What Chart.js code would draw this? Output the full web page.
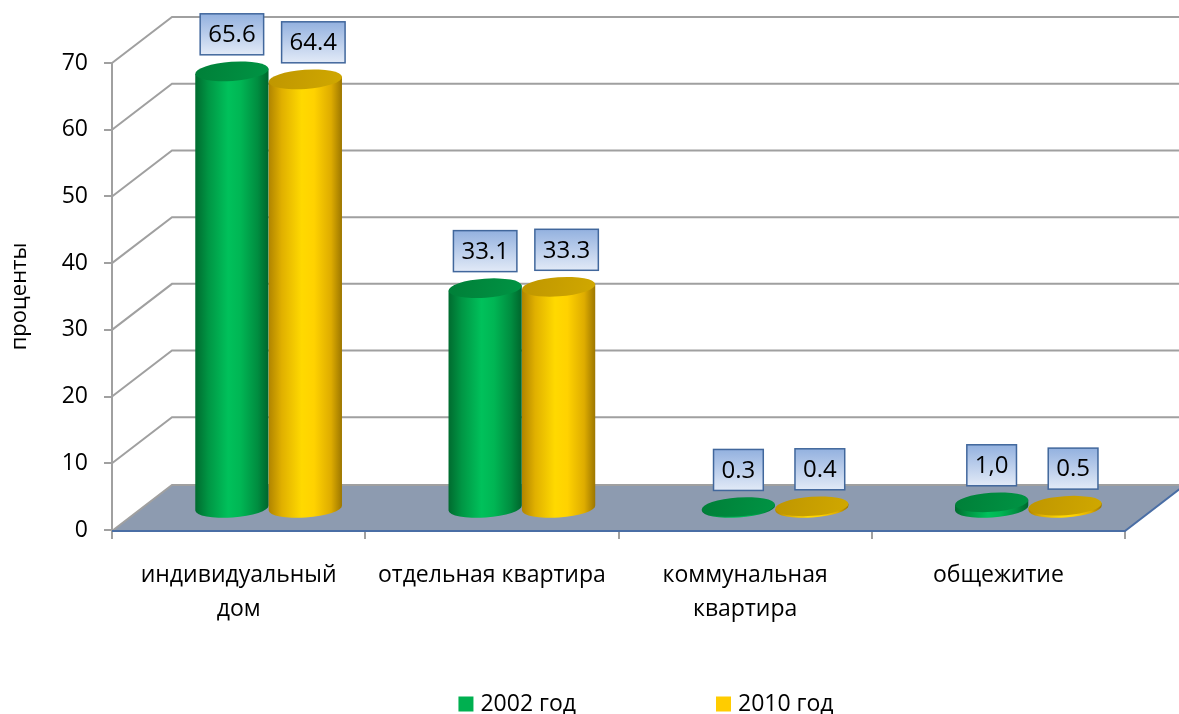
<!DOCTYPE html>
<html><head><meta charset="utf-8">
<script src="https://cdn.jsdelivr.net/npm/chart.js@4.4.0/dist/chart.umd.min.js"></script>
<style>html,body{margin:0;padding:0;background:#fff;overflow:hidden}</style>
</head><body>
<canvas id="c" width="1179" height="714"></canvas>
<script>
// ---- data ----
const categories = [['индивидуальный', 'дом'], 'отдельная квартира', ['коммунальная', 'квартира'], 'общежитие'];
const seriesNames = ['2002 год', '2010 год'];
const values2002 = [65.6, 33.1, 0.3, 1.0];
const values2010 = [64.4, 33.3, 0.4, 0.5];
const labels2002 = ['65.6', '33.1', '0.3', '1,0'];
const labels2010 = ['64.4', '33.3', '0.4', '0.5'];
const yTicks = [0, 10, 20, 30, 40, 50, 60, 70];
const axisTitle = 'проценты';

// ---- style ----
const FONT = "'Open Sans', sans-serif";
const DX = 60, DY = -46;
const palette = [
  { stops: [[0, '#006b2f'], [0.18, '#009644'], [0.45, '#00c15b'], [0.62, '#00b654'], [0.85, '#008d40'], [1, '#00652c']],
    top: ['#007f38', '#009444'], legend: '#00b050', labelShift: 0 },
  { stops: [[0, '#b08400'], [0.18, '#e0b000'], [0.45, '#ffd900'], [0.62, '#ffd200'], [0.85, '#deac00'], [1, '#9c7600']],
    top: ['#bf9600', '#d0a800'], legend: '#ffcc00', labelShift: 8 }
];
const dataLabels = [labels2002, labels2010];

function drawCylinder(ctx, cx, top, base, w, pal) {
  const rx = w / 2, ry = w * 0.13, rot = -0.07;
  const c = Math.cos(rot), s = Math.sin(rot);
  const g = ctx.createLinearGradient(cx - rx, 0, cx + rx, 0);
  pal.stops.forEach(st => g.addColorStop(st[0], st[1]));
  ctx.fillStyle = g;
  ctx.beginPath();
  ctx.moveTo(cx - rx * c, top - rx * s);
  ctx.ellipse(cx, base, rx, ry, rot, Math.PI, 0, true);
  ctx.lineTo(cx + rx * c, top + rx * s);
  ctx.closePath();
  ctx.fill();
  const tg = ctx.createLinearGradient(cx - rx, top - ry, cx + rx, top + ry);
  tg.addColorStop(0, pal.top[0]);
  tg.addColorStop(1, pal.top[1]);
  ctx.fillStyle = tg;
  ctx.beginPath();
  ctx.ellipse(cx, top, rx, ry, rot, 0, Math.PI * 2);
  ctx.fill();
  return ry;
}

const plugin3d = {
  id: 'threeD',
  beforeDatasetsDraw(chart) {
    const { ctx, chartArea: a, scales: { x, y } } = chart;
    ctx.save();
    // back wall grid lines + side wall diagonals
    ctx.lineWidth = 2;
    ctx.strokeStyle = '#a0a0a0';
    y.ticks.forEach(t => {
      if (t.value === 0) return;
      const py = y.getPixelForValue(t.value);
      ctx.beginPath();
      ctx.moveTo(a.left, py);
      ctx.lineTo(a.left + DX, py + DY);
      ctx.lineTo(a.right + DX, py + DY);
      ctx.stroke();
    });
    // floor
    const y0 = y.getPixelForValue(0) + 1;
    ctx.beginPath();
    ctx.moveTo(a.left, y0);
    ctx.lineTo(a.right, y0);
    ctx.lineTo(a.right + DX, y0 + DY);
    ctx.lineTo(a.left + DX, y0 + DY);
    ctx.closePath();
    ctx.fillStyle = '#8d9bb0';
    ctx.fill();
    ctx.strokeStyle = '#a0a0a0';
    ctx.beginPath();
    ctx.moveTo(a.left, y0);
    ctx.lineTo(a.left + DX, y0 + DY);
    ctx.lineTo(a.right + DX, y0 + DY);
    ctx.stroke();
    ctx.strokeStyle = '#4a6ea5';
    ctx.beginPath();
    ctx.moveTo(a.left, y0);
    ctx.lineTo(a.right, y0);
    ctx.lineTo(a.right + DX, y0 + DY);
    ctx.stroke();

    // cylinders at mid depth
    ctx.translate(DX / 2, DY / 2 + 2);
    const boxes = [];
    const n = chart.data.labels.length;
    for (let i = 0; i < n; i++) {
      chart.data.datasets.forEach((ds, di) => {
        if (!chart.isDatasetVisible(di)) return;
        const el = chart.getDatasetMeta(di).data[i];
        const p = el.getProps(['x', 'y', 'base', 'width'], true);
        const ry = drawCylinder(ctx, p.x, p.y, p.base, p.width, palette[di]);
        boxes.push({ x: p.x + palette[di].labelShift, top: p.y - ry, text: dataLabels[di][i] });
      });
    }
    // data labels
    ctx.font = '24px ' + FONT;
    ctx.textAlign = 'center';
    ctx.textBaseline = 'middle';
    boxes.forEach(b => {
      const tw = ctx.measureText(b.text).width;
      const bw = tw + 16, bh = 41;
      const bx = b.x - bw / 2, by = b.top - 7 - bh;
      const g = ctx.createLinearGradient(0, by, 0, by + bh);
      g.addColorStop(0, '#93b1df');
      g.addColorStop(1, '#e2eaf7');
      ctx.fillStyle = g;
      ctx.fillRect(bx, by, bw, bh);
      ctx.lineWidth = 1.5;
      ctx.strokeStyle = '#41679c';
      ctx.strokeRect(bx, by, bw, bh);
      ctx.fillStyle = '#000';
      ctx.fillText(b.text, b.x, by + bh / 2 + 1);
    });
    ctx.restore();
    return false;
  },
  afterDraw(chart) {
    // legend
    const { ctx } = chart;
    ctx.save();
    ctx.font = '23px ' + FONT;
    ctx.textBaseline = 'middle';
    ctx.textAlign = 'left';
    const gap = 140, box = 15, sp = 7;
    const widths = chart.data.datasets.map(d => box + sp + ctx.measureText(d.label).width);
    const total = widths.reduce((s, w) => s + w, 0) + gap * (widths.length - 1);
    let xx = 646 - total / 2;
    const yc = 704;
    chart.data.datasets.forEach((d, di) => {
      ctx.fillStyle = palette[di].legend;
      ctx.fillRect(xx, yc - box / 2, box, box);
      ctx.fillStyle = '#000';
      ctx.fillText(d.label, xx + box + sp, yc);
      xx += widths[di] + gap;
    });
    ctx.restore();
  }
};

new Chart(document.getElementById('c'), {
  type: 'bar',
  data: {
    labels: categories,
    datasets: [
      { label: seriesNames[0], data: values2002, backgroundColor: palette[0].legend },
      { label: seriesNames[1], data: values2010, backgroundColor: palette[1].legend }
    ]
  },
  options: {
    responsive: false,
    animation: false,
    devicePixelRatio: 1,
    layout: { padding: { left: 0, right: 54, top: 63, bottom: 0 } },
    datasets: { bar: { categoryPercentage: 0.58, barPercentage: 1 } },
    plugins: { legend: { display: false }, tooltip: { enabled: false } },
    scales: {
      x: {
        offset: true,
        grid: { offset: true, drawOnChartArea: false, drawTicks: true, tickLength: 9, color: '#a0a0a0', lineWidth: 2 },
        border: { display: false },
        ticks: { color: '#000', font: { family: FONT, size: 23, lineHeight: 1.5 }, padding: 19, maxRotation: 0, autoSkip: false },
        afterFit(s) { s.height = 184; }
      },
      y: {
        min: 0, max: 70,
        afterBuildTicks(s) { s.ticks = yTicks.map(v => ({ value: v })); },
        grid: { drawOnChartArea: false, drawTicks: true, tickLength: 8, color: '#a0a0a0', lineWidth: 2 },
        border: { display: true, color: '#a0a0a0', width: 2 },
        ticks: { color: '#000', font: { family: FONT, size: 23 }, padding: 16 },
        title: { display: true, text: axisTitle, color: '#000', font: { family: FONT, size: 22 }, padding: { top: 7, bottom: 0 } },
        afterFit(s) { s.width = 112; }
      }
    }
  },
  plugins: [plugin3d]
});
</script>
</body></html>
